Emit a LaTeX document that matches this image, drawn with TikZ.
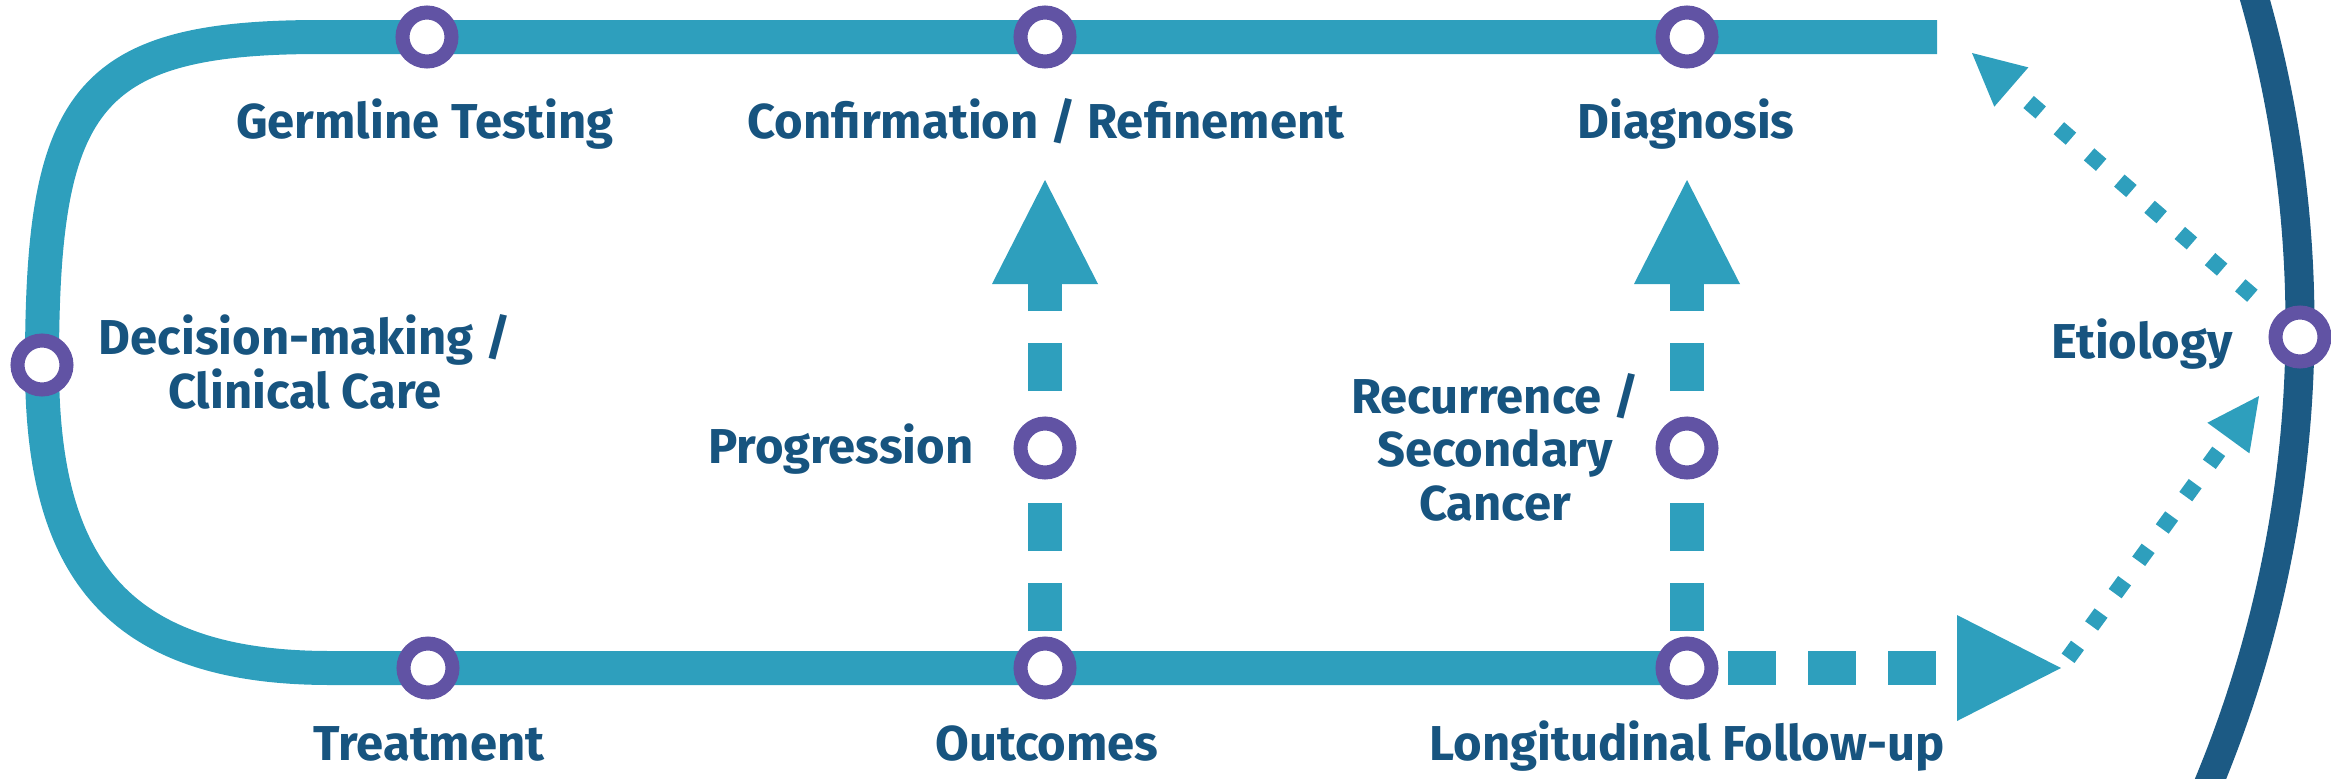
\documentclass[tikz,border=0pt]{standalone}
\usepackage{fontspec}
\newfontfamily\firafont{Fira Sans}
\usetikzlibrary{arrows.meta,backgrounds}
\definecolor{lineC}{HTML}{2E9FBD}
\definecolor{ringC}{HTML}{6153A4}
\definecolor{textC}{HTML}{17547F}
\definecolor{arcC}{HTML}{1C5A84}
\tikzset{
  stn/.style={circle, draw=ringC, fill=white, line width=7pt, minimum size=24.5pt, inner sep=0pt, outer sep=0pt},
  lbl/.style={text=textC, font=\firafont\bfseries\fontsize{24.5pt}{26.75pt}\selectfont, inner sep=0pt, align=center, anchor=base},
  mainline/.style={draw=lineC, line width=17pt},
  dashv/.style={draw=lineC, line width=17pt, dash pattern=on 24pt off 16pt, -{Triangle[length=52pt,width=53pt,line width=0pt]}},
  dotd/.style={draw=lineC, line width=8pt, dash pattern=on 8pt off 12pt, -{Triangle[length=26pt,width=26pt,line width=0pt]}},
  arcline/.style={draw=arcC, line width=14.5pt}
}
\begin{document}
\begin{tikzpicture}[x=0.5pt,y=-0.5pt]
\useasboundingbox (0,0) rectangle (2331,778);
% stations
\node[stn] (germ)  at (427,37) {};
\node[stn] (conf)  at (1045,37) {};
\node[stn] (diag)  at (1687,37) {};
\node[stn] (dec)   at (42,365) {};
\node[stn] (treat) at (428,668) {};
\node[stn] (outc)  at (1045,668) {};
\node[stn] (long)  at (1687,668) {};
\node[stn] (prog)  at (1045,448) {};
\node[stn] (recur) at (1687,448) {};
\node[stn] (eti)   at (2300,337) {};
% free ends
\coordinate (topend) at (1937,37);
\coordinate (tipC) at (1045,180);
\coordinate (tipD) at (1687,180);
\coordinate (tipL) at (2061,668);
\coordinate (tipA) at (1972,53);
\coordinate (tipE) at (2259,396);
\coordinate (arcc) at (1104,325);
% labels
\node[lbl] (tgerm)  at (425,138)  {Germline Testing};
\node[lbl] (tconf)  at (1046,138) {Confirmation / Refinement};
\node[lbl] (tdiag)  at (1686,138) {Diagnosis};
\node[lbl] (tdec)   at (305,408)  {Decision-making /\\Clinical Care};
\node[lbl] (tprog)  at (841,463)  {Progression};
\node[lbl] (trec)   at (1495,520) {Recurrence /\\Secondary\\Cancer};
\node[lbl] (ttreat) at (429,760)  {Treatment};
\node[lbl] (toutc)  at (1047,760) {Outcomes};
\node[lbl] (tlong)  at (1687,760) {Longitudinal Follow-up};
\node[lbl] (teti)   at (2142,358) {Etiology};
\begin{scope}[on background layer]
  \draw[arcline] ([shift={(18:598pt)}]arcc) arc[start angle=18, end angle=-25, radius=598pt];
  \draw[mainline] (topend) -- (diag.center) -- (conf.center) -- (germ.center) -- (320,37)
     .. controls (85,37) and (42,100) .. (dec.center)
     .. controls (42,560) and (110,668) .. (330,668)
     -- (treat.center) -- (outc.center) -- (long.center);
  \draw[dashv, shorten <=6.25pt] (outc) -- (tipC);
  \draw[dashv, shorten <=6.25pt] (long) -- (tipD);
  \draw[dashv, shorten <=8.25pt] (long) -- (tipL);
  \draw[dotd, shorten <=6pt] (tipL) -- (tipE);
  \draw[dotd, shorten <=19.25pt] (eti) -- (tipA);
\end{scope}
\end{tikzpicture}
\end{document}
